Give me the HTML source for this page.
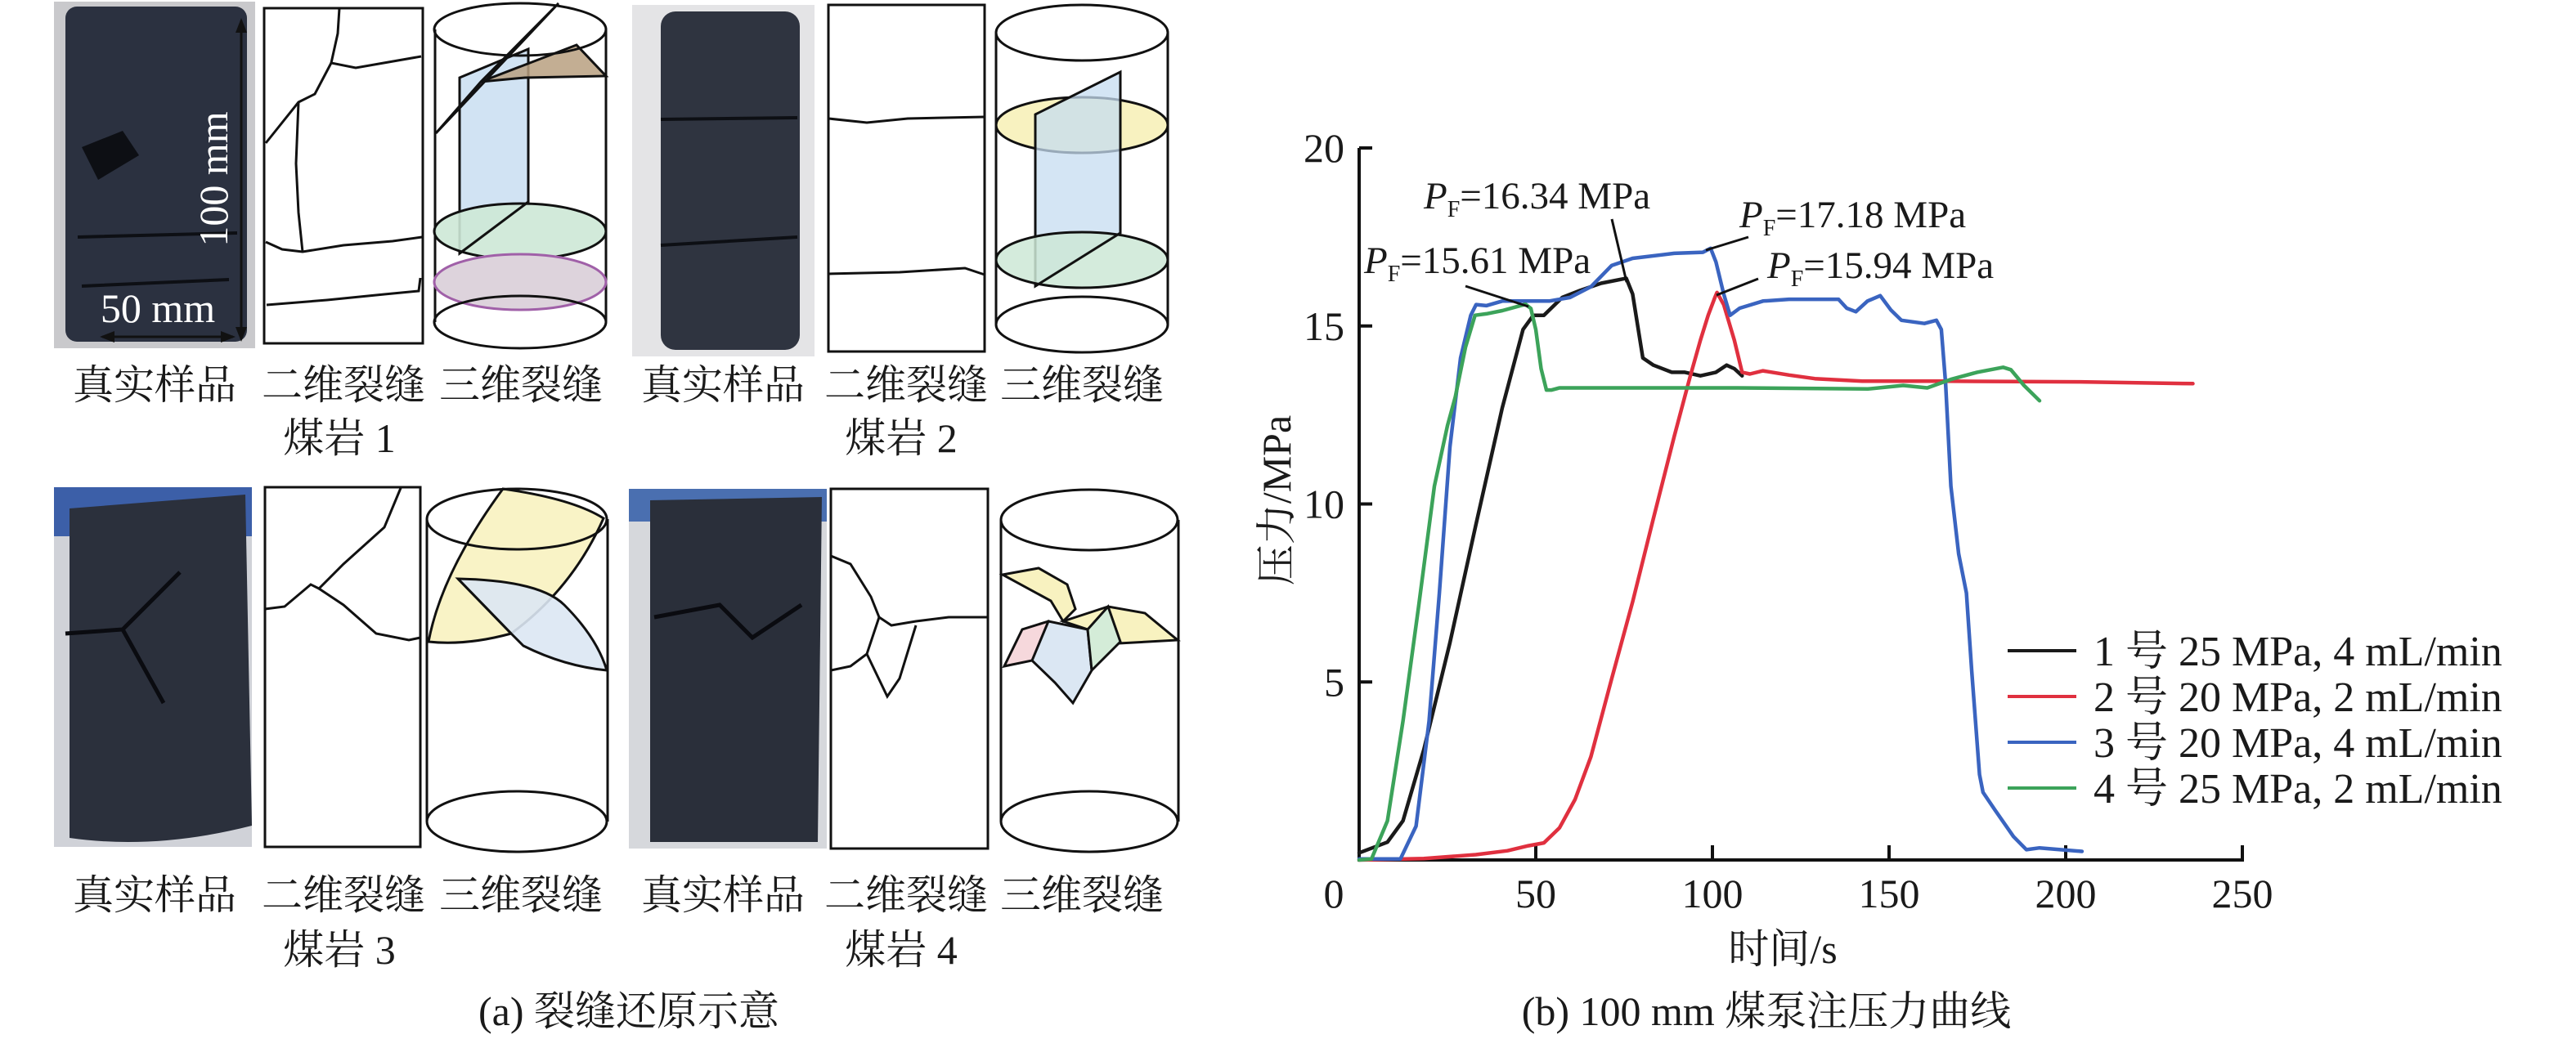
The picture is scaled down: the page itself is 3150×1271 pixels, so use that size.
<!DOCTYPE html>
<html><head><meta charset="utf-8">
<style>
html,body{margin:0;padding:0;background:#fff;}
svg{display:block;}
text{font-family:"Liberation Serif","Noto Serif CJK SC","Noto Sans CJK SC",serif;fill:#1a1a1a;}
text.white{fill:#ffffff;}
</style></head>
<body>
<svg id="fig" width="3150" height="1271" viewBox="0 0 3150 1271" xmlns="http://www.w3.org/2000/svg">
<g fill="none" stroke="#111" stroke-width="3">
  <g>
    <rect x="66" y="2" width="246" height="424" fill="#c9c9cc" stroke="none"/>
    <rect x="80" y="8" width="222" height="410" rx="14" fill="#2b3140" stroke="none"/>
    <path d="M100,180 L150,160 L170,190 L120,220Z" fill="#0d0f14" stroke="none"/>
    <path d="M95,290 L290,285 M100,350 L280,342" stroke="#0d0f14" stroke-width="4"/>
    <line x1="295" y1="25" x2="295" y2="415" stroke="#111" stroke-width="3"/>
    <path d="M288,40 L295,22 L302,40Z M288,400 L295,418 L302,400Z" fill="#111" stroke="none"/>
    <line x1="125" y1="412" x2="285" y2="412" stroke="#111" stroke-width="3"/>
    <path d="M140,405 L122,412 L140,419Z M270,405 L288,412 L270,419Z" fill="#111" stroke="none"/>
    <text class="white" x="262" y="235" font-size="50" text-anchor="middle" transform="rotate(-90 262 219)" fill="#ffffff" stroke="none">100 mm</text>
    <text class="white" x="193" y="394" font-size="50" text-anchor="middle" fill="#ffffff" stroke="none">50 mm</text>
  </g>
  <g>
    <rect x="323" y="10" width="194" height="410"/>
    <path d="M415,10 L413,41 L405,77 L435,83 L515,69"/>
    <path d="M405,77 L385,115 L365,125 L325,175"/>
    <path d="M365,125 L362,200 L365,260 L370,308"/>
    <path d="M325,296 L345,305 L370,308 L420,300 L480,295 L516,290"/>
    <path d="M326,373 L400,367 L470,360 L512,356 L514,340"/>
  </g>
  <g>
    <line x1="532" y1="36" x2="532" y2="394"/><line x1="741" y1="36" x2="741" y2="394"/>
    <path d="M562,95 L646,60 L646,247 L562,310Z" fill="#c6dcf0" fill-opacity="0.8" stroke="#111"/>
    <path d="M533,163 L683,4 L588,100Z" fill="#c890c8" fill-opacity="0.85"/>
    <path d="M588,100 L705,55 L741,93 L642,95Z" fill="#b8a080" fill-opacity="0.85"/>
    <ellipse cx="636" cy="283" rx="105" ry="34" fill="#cde8d6" fill-opacity="0.9"/>
    <line x1="562" y1="310" x2="646" y2="247"/>
    <ellipse cx="636" cy="345" rx="105" ry="34" fill="#ddd3dc" stroke="#a060a8"/>
    <ellipse cx="636" cy="36" rx="105" ry="32"/>
    <ellipse cx="636" cy="394" rx="105" ry="32"/>
  </g>
  <g>
    <rect x="773" y="6" width="223" height="430" fill="#e4e4e6" stroke="none"/>
    <rect x="808" y="14" width="170" height="414" rx="18" fill="#2f3440" stroke="none"/>
    <path d="M808,146 L975,144 M808,300 L975,290" stroke="#0d0f14" stroke-width="4"/>
  </g>
  <g>
    <rect x="1013" y="6" width="191" height="424"/>
    <path d="M1013,145 L1060,150 L1110,145 L1204,143"/>
    <path d="M1013,335 L1100,333 L1180,328 L1204,336"/>
  </g>
  <g>
    <line x1="1218" y1="40" x2="1218" y2="397"/><line x1="1428" y1="40" x2="1428" y2="397"/>
    <ellipse cx="1323" cy="153" rx="105" ry="34" fill="#f8f2c0"/>
    <path d="M1266,140 L1370,88 L1370,285 L1266,350Z" fill="#c6dcf0" fill-opacity="0.75"/>
    <ellipse cx="1323" cy="318" rx="105" ry="34" fill="#cde8d6" fill-opacity="0.85"/>
    <line x1="1266" y1="350" x2="1370" y2="285"/>
    <ellipse cx="1323" cy="40" rx="105" ry="34"/>
    <ellipse cx="1323" cy="397" rx="105" ry="34"/>
  </g>
  <g>
    <rect x="66" y="596" width="242" height="440" fill="#d0d2d8" stroke="none"/>
    <rect x="66" y="596" width="242" height="60" fill="#3c5fa8" stroke="none"/>
    <path d="M85,622 L300,605 L308,1010 Q190,1040 85,1025Z" fill="#2b303c" stroke="none"/>
    <path d="M80,775 L150,770 L220,700 M150,770 L200,860" stroke="#0a0b10" stroke-width="5"/>
  </g>
  <g>
    <rect x="324" y="596" width="190" height="440"/>
    <path d="M324,745 L348,742 L380,715 L390,720 L420,690 L470,645 L490,597"/>
    <path d="M390,720 L420,740 L460,775 L500,783 L514,780"/>
  </g>
  <g>
    <line x1="522" y1="635" x2="522" y2="1005"/><line x1="743" y1="635" x2="743" y2="1005"/>
    <path d="M524,785 Q540,700 615,598 Q700,610 738,634 Q700,720 625,775 Q570,790 524,785Z" fill="#f8f2c0" fill-opacity="0.9"/>
    <path d="M560,708 Q660,710 690,740 Q730,780 742,820 Q690,815 640,790 Q630,780 625,775Z" fill="#dbe7f3" fill-opacity="0.9"/>
    <line x1="560" y1="708" x2="625" y2="775"/>
    <ellipse cx="632" cy="635" rx="110" ry="37"/>
    <ellipse cx="632" cy="1005" rx="110" ry="37"/>
  </g>
  <g>
    <rect x="769" y="598" width="242" height="440" fill="#d6d8dc" stroke="none"/>
    <rect x="769" y="598" width="242" height="40" fill="#4a6fb0" stroke="none"/>
    <path d="M795,612 L1005,608 L1000,1030 L795,1030Z" fill="#2a2f3a" stroke="none"/>
    <path d="M800,755 L880,740 L920,780 L980,740" stroke="#0a0b10" stroke-width="5"/>
  </g>
  <g>
    <rect x="1016" y="598" width="192" height="440"/>
    <path d="M1016,680 L1040,690 L1065,730 L1075,755 L1090,765 L1120,760 L1160,755 L1208,755"/>
    <path d="M1075,755 L1060,800 L1040,815 L1016,820"/>
    <path d="M1060,800 L1085,852 L1100,830 L1120,765"/>
  </g>
  <g>
    <line x1="1224" y1="636" x2="1224" y2="1005"/><line x1="1441" y1="636" x2="1441" y2="1005"/>
    <path d="M1226,703 L1270,695 L1305,715 L1315,745 L1300,760 L1285,735Z" fill="#f8f2c0"/>
    <path d="M1300,760 L1355,742 L1400,750 L1440,783 L1350,788 L1330,770Z" fill="#f8f2c0"/>
    <path d="M1228,815 L1250,770 L1282,760 L1290,795 L1262,808Z" fill="#f6d8dc"/>
    <path d="M1282,760 L1330,770 L1335,820 L1312,860 L1290,835 L1262,808Z" fill="#dbe7f3"/>
    <path d="M1330,770 L1355,742 L1370,785 L1335,820Z" fill="#d4ecd8"/>
    <ellipse cx="1332" cy="636" rx="108" ry="37"/>
    <ellipse cx="1332" cy="1005" rx="108" ry="37"/>
  </g>
</g>
<g font-size="50" text-anchor="middle">
  <text x="189" y="488">真实样品</text><text x="420" y="488">二维裂缝</text><text x="637" y="488">三维裂缝</text>
  <text x="884" y="488">真实样品</text><text x="1108" y="488">二维裂缝</text><text x="1323" y="488">三维裂缝</text>
  <text x="415" y="553">煤岩 1</text>
  <text x="1102" y="553">煤岩 2</text>
  <text x="189" y="1112">真实样品</text><text x="420" y="1112">二维裂缝</text><text x="637" y="1112">三维裂缝</text>
  <text x="884" y="1112">真实样品</text><text x="1108" y="1112">二维裂缝</text><text x="1323" y="1112">三维裂缝</text>
  <text x="415" y="1179">煤岩 3</text>
  <text x="1102" y="1179">煤岩 4</text>
  <text x="769" y="1254">(a) 裂缝还原示意</text>
</g>
<g id="chart"></g>
</svg>
<script>
const xTicks=[50,100,150,200,250];
const yTicks=[5,10,15,20];
const seriesNames=["1 号 25 MPa, 4 mL/min","2 号 20 MPa, 2 mL/min","3 号 20 MPa, 4 mL/min","4 号 25 MPa, 2 mL/min"];
const t1=[0,8,12.4,18.3,25.7,33,40.5,46.4,49.3,52.3,57.5,62.6,68.5,75.6,77.4,80.3,83.3,88.5,92.2,96.6,101,104,106.2,108.4];
const v1=[0.2,0.5,1.1,3.1,6.1,9.4,12.7,14.9,15.3,15.3,15.8,16.0,16.2,16.34,15.9,14.1,13.9,13.7,13.7,13.6,13.7,13.9,13.8,13.6];
const t2=[0,18.3,33,42,47.9,52.3,56.7,61.1,65.6,71.5,77.4,83.3,89.2,93.6,96.6,98.8,100.7,101.3,103.2,106.2,108.4,110.6,114.3,121.7,129,142.4,166,204,236];
const v2=[0,0.04,0.15,0.26,0.4,0.48,0.9,1.7,2.9,5.1,7.25,9.6,11.9,13.55,14.6,15.3,15.8,15.94,15.6,14.6,13.7,13.65,13.74,13.62,13.52,13.45,13.45,13.43,13.38];
const t3=[0,11.7,16.1,19.8,22.7,25.7,28.7,31.6,33.1,36,40.5,53.8,59.7,65.6,71.5,77.4,89.2,97.3,99.5,101,103.2,105,107.7,114.3,121.7,135.7,138,140.6,143.9,147.5,150.5,153.5,160,163.4,164.8,166,167.5,169.7,171.9,173.4,175.6,176.6,180,185.2,188.9,192.6,198.5,204.6];
const v3=[0.03,0.03,0.95,3.9,7.5,11.6,14.1,15.3,15.6,15.57,15.7,15.7,15.8,16.1,16.7,16.9,17.04,17.07,17.18,16.8,15.9,15.3,15.5,15.7,15.75,15.75,15.5,15.4,15.7,15.85,15.45,15.16,15.07,15.16,14.9,13.4,10.5,8.6,7.5,5.3,2.4,1.9,1.4,0.66,0.29,0.34,0.29,0.24];
const t4=[0,3.5,8,12.4,16.8,21.3,25,27.2,30.1,32.8,36,40.5,47.1,48.6,50,51.5,53,54.5,56.7,107,144,154,160.8,167.5,174.9,182.3,184.5,188.2,192.6];
const v4=[0,0.03,1.1,3.9,7.1,10.5,12.2,13,14.4,15.3,15.34,15.43,15.61,15.49,14.9,13.8,13.2,13.2,13.26,13.26,13.23,13.33,13.26,13.5,13.7,13.84,13.77,13.33,12.9];
const colors=["#1a1a1a","#e0303f","#3a64c0","#3ca35a"];

const NS="http://www.w3.org/2000/svg";
const X0=1662,X1=2742,Y0=1052,Y1=181;
function xs(t){return X0+t/250*(X1-X0);}
function ys(v){return Y0-v/20*(Y0-Y1);}
const g=document.getElementById('chart');
function mk(tag,attrs,parent){const e=document.createElementNS(NS,tag);for(const k in attrs)e.setAttribute(k,attrs[k]);(parent||g).appendChild(e);return e;}

const ax=mk('path',{d:`M${X0},${Y1} L${X0},${Y0} L${X1},${Y0} L${X1},${Y0-18}`,fill:'none',stroke:'#111','stroke-width':4});


for(const v of yTicks){
  const tk=mk('line',{x1:X0,x2:X0+16,y1:ys(v),y2:ys(v),stroke:'#111','stroke-width':4});
  
  
  const lb=mk('text',{x:X0-18,y:ys(v)+17,'font-size':50,'text-anchor':'end'});
  lb.textContent=v;
  
  
}
for(const t of xTicks){
  if(t!==250){
  const tk=mk('line',{x1:xs(t),x2:xs(t),y1:Y0,y2:Y0-18,stroke:'#111','stroke-width':4});
  
  }
  const lb=mk('text',{x:xs(t),y:Y0+58,'font-size':50,'text-anchor':'middle'});
  lb.textContent=t;
  
  
}
const z=mk('text',{x:1631,y:Y0+58,'font-size':50,'text-anchor':'middle'});
z.textContent='0';



const xt=mk('text',{x:2180,y:1178,'font-size':50,'text-anchor':'middle'});
xt.textContent='时间/s';


const yt=mk('text',{x:1560,y:630,'font-size':50,'text-anchor':'middle',transform:'rotate(-90 1560 612)'});
yt.textContent='压力/MPa';


const cap=mk('text',{x:2160,y:1254,'font-size':50,'text-anchor':'middle'});
cap.textContent='(b) 100 mm 煤泵注压力曲线';



const T=[t1,t2,t3,t4],V=[v1,v2,v3,v4];
for(let s=0;s<4;s++){
  let d='';
  for(let i=0;i<T[s].length;i++){d+=(i?' L':'M')+xs(T[s][i]).toFixed(1)+','+ys(V[s][i]).toFixed(1);}
  const p=mk('path',{d:d,fill:'none',stroke:colors[s],'stroke-width':4.5,'stroke-linejoin':'round','stroke-linecap':'round'});
  
  
}
for(let s=0;s<4;s++){
  const y=796+s*56;
  const l=mk('line',{x1:2455,x2:2539,y1:y,y2:y,stroke:colors[s],'stroke-width':4});
  
  
  const tx=mk('text',{x:2560,y:y+18,'font-size':52});
  tx.textContent=seriesNames[s];
  
  
}
const ann=[
 {x:1741,y:255,val:'16.34',lx1:1971,ly1:268,lx2:1989,ly2:345},
 {x:1668,y:334,val:'15.61',lx1:1792,ly1:350,lx2:1869,ly2:375},
 {x:2127,y:278,val:'17.18',lx1:2086,ly1:306,lx2:2138,ly2:290},
 {x:2161,y:340,val:'15.94',lx1:2099,ly1:361,lx2:2150,ly2:341}];
for(const a of ann){
  const ln=mk('line',{x1:a.lx1,y1:a.ly1,x2:a.lx2,y2:a.ly2,stroke:'#111','stroke-width':3});
  
  
  const tx=mk('text',{x:a.x,y:a.y,'font-size':47});
  
  
  const p=document.createElementNS(NS,'tspan');p.setAttribute('font-style','italic');p.textContent='P';tx.appendChild(p);
  const f=document.createElementNS(NS,'tspan');f.setAttribute('font-size','28');f.setAttribute('dy','10');f.textContent='F';tx.appendChild(f);
  const r=document.createElementNS(NS,'tspan');r.setAttribute('dy','-10');r.textContent='='+a.val+' MPa';tx.appendChild(r);
}
</script>
</body></html>
